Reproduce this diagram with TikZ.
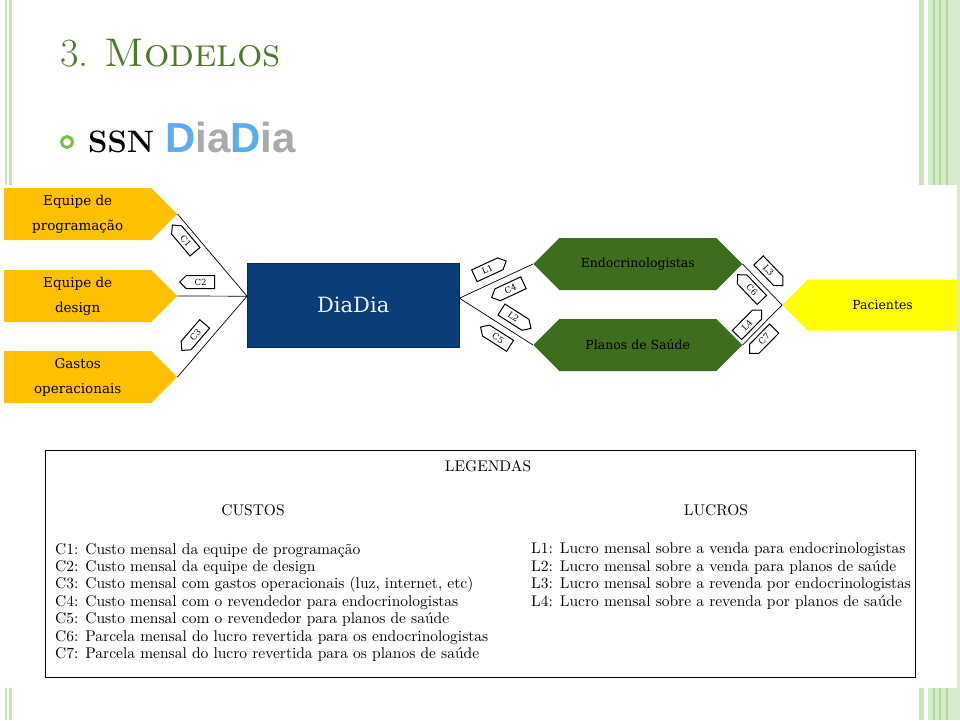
\documentclass[tikz,border=0pt]{standalone}
\usepackage{fontspec}
\usepackage{tikz}
\usetikzlibrary{shapes.symbols,positioning}
\newfontfamily\diafont{DejaVu Serif}
\newfontfamily\headsans{Liberation Sans}
\newfontfamily\legfont{lmroman10-regular.otf}
\definecolor{mdgreen}{HTML}{4E7A2B}
\definecolor{mdbullet}{HTML}{7CC242}
\definecolor{mdsky}{HTML}{5DADEC}
\definecolor{mdgrey}{HTML}{AAAAAA}
\definecolor{mdorange}{HTML}{FFC000}
\definecolor{mdnavy}{HTML}{0B3E78}
\definecolor{mdleaf}{HTML}{3F6D1F}
\definecolor{mdyellow}{HTML}{FFFF00}
\definecolor{mdstripe}{HTML}{C8E4B8}
\definecolor{mdstripedk}{HTML}{B2D89C}

\begin{document}
\begin{tikzpicture}[x=1pt,y=1pt,
  src/.style={shape=signal,signal to=east,fill=mdorange,minimum width=173pt,
    minimum height=52pt,inner sep=0pt,align=center,
    font=\diafont\fontsize{13.5}{25}\selectfont},
  mid/.style={shape=signal,signal to=east and west,fill=mdleaf,minimum width=209pt,
    minimum height=52pt,inner sep=0pt,font=\diafont\fontsize{12.5}{15}\selectfont},
  tagbox/.style={shape=signal,draw=black,fill=white,line width=1pt,minimum width=35pt,
    minimum height=13pt,inner sep=0pt,font=\diafont\fontsize{8.5}{8.5}\selectfont},
  tagw/.style={tagbox,signal to=west},
  tage/.style={tagbox,signal to=east},
  link/.style={draw=black,line width=0.7pt},
  legtxt/.style={inner sep=0pt,font=\legfont\fontsize{15.5}{17.4}\selectfont}]
  \useasboundingbox (0,0) rectangle (960,-720);
  % slide stripes
  \fill[mdstripe] (5,0) rectangle (7,-720);
  \fill[mdstripe] (8.5,0) rectangle (11.5,-720);
  \fill[mdstripe] (919,0) rectangle (924,-720);
  \fill[mdstripe!75] (928,0) rectangle (960,-720);
  \foreach \sx in {934,940,947}
    \draw[mdstripedk,line width=1.5pt] (\sx,0) -- (\sx,-720);
  \fill[white] (0,-185) rectangle (957,-688);
  % heading
  \node[anchor=base west,inner sep=0pt,text=mdgreen,font=\fontsize{40}{40}\selectfont]
    (title) at (60,-66) {3. \textsc{Modelos}};
  \draw[mdbullet,line width=3pt] (67,-142) circle (5.5pt);
  \node[anchor=base west,inner sep=0pt,font=\bfseries\fontsize{31}{31}\selectfont]
    (ssn) at (88,-152) {SSN};
  \node[anchor=base west,inner sep=0pt,font=\headsans\bfseries\fontsize{42}{42}\selectfont]
    (brand) at (165,-152) {\textcolor{mdsky}{D}\textcolor{mdgrey}{ia}\textcolor{mdsky}{D}\textcolor{mdgrey}{ia}};
  % diagram
  \node[src,anchor=west] (prog) at (4,-214) {Equipe de\\programação};
  \node[src,anchor=west] (design) at (4,-296) {Equipe de\\design};
  \node[src,anchor=west] (gastos) at (4,-377) {Gastos\\operacionais};
  \node[draw=mdnavy!70!black,fill=mdnavy,anchor=north west,minimum width=212pt,
    minimum height=84pt,text=blue!5,font=\diafont\fontsize{21}{21}\selectfont]
    (dia) at (247,-263) {DiaDia};
  \node[mid,anchor=west] (endo) at (533,-264) {Endocrinologistas};
  \node[mid,anchor=west] (planos) at (533,-345) {Planos de Saúde};
  \node[shape=signal,signal to=west,fill=mdyellow,anchor=west,minimum width=175pt,
    minimum height=51pt,inner sep=0pt,font=\diafont\fontsize{12.5}{15}\selectfont]
    (pac) at (782,-305) {Pacientes};
  \draw[link] (prog.east) -- node[tagw,sloped,below=4pt,pos=.24] {C1} ([yshift=9pt]dia.west);
  \draw[link] (design.east) -- node[tagw,sloped,above=7pt,pos=.33] {C2} ([yshift=9pt]dia.west);
  \draw[link] (gastos.east) -- node[tagw,sloped,above=7pt,pos=.41] {C3} ([yshift=9pt]dia.west);
  \draw[link] ([yshift=7pt]dia.east) -- node[tage,sloped,above=7pt,pos=.46] {L1}
    node[tagw,sloped,below=6pt,pos=.62] {C4} (endo.west);
  \draw[link] ([yshift=7pt]dia.east) -- node[tage,sloped,above=6pt,pos=.64] {L2}
    node[tagw,sloped,below=6pt,pos=.62] {C5} (planos.west);
  \draw[link] (endo.east) -- node[tage,sloped,above=7pt,pos=.40] {L3}
    node[tagw,sloped,below=4pt,pos=.44] {C6} (pac.west);
  \draw[link] (planos.east) -- node[tage,sloped,above=4pt,pos=.31] {L4}
    node[tagw,sloped,below=4pt,pos=.35] {C7} (pac.west);
  % legend
  \node[draw=black,line width=1.2pt,anchor=north west,minimum width=870pt,
    minimum height=227pt] (leg) at (45,-450) {};
  \node[legtxt,anchor=base] (legtitle) at (488,-471) {LEGENDAS};
  \node[legtxt,anchor=base] (custos) at (253,-515) {CUSTOS};
  \node[legtxt,anchor=base] (lucros) at (716,-515) {LUCROS};
  \node[legtxt,align=left,anchor=north west] (clist) at (55,-543)
    {C1: Custo mensal da equipe de programação\\
     C2: Custo mensal da equipe de design\\
     C3: Custo mensal com gastos operacionais (luz, internet, etc)\\
     C4: Custo mensal com o revendedor para endocrinologistas\\
     C5: Custo mensal com o revendedor para planos de saúde\\
     C6: Parcela mensal do lucro revertida para os endocrinologistas\\
     C7: Parcela mensal do lucro revertida para os planos de saúde};
  \node[legtxt,align=left,anchor=north west] (llist) at (531,-543)
    {L1: Lucro mensal sobre a venda para endocrinologistas\\
     L2: Lucro mensal sobre a venda para planos de saúde\\
     L3: Lucro mensal sobre a revenda por endocrinologistas\\
     L4: Lucro mensal sobre a revenda por planos de saúde};
\end{tikzpicture}
\end{document}
